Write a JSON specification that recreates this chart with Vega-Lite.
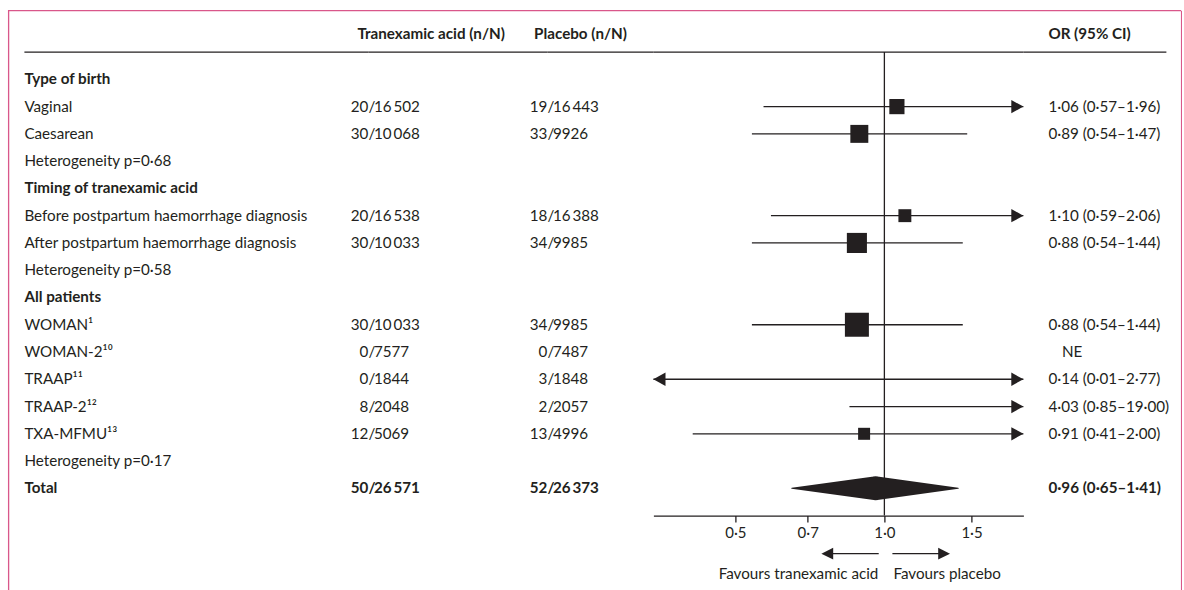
{
  "$schema": "https://vega.github.io/schema/vega-lite/v6.json",
  "background": "white",
  "padding": {"left": 7.4, "top": 9.4, "right": 0, "bottom": 0},
  "config": {
    "view": {"stroke": null},
    "font": "Lato",
    "text": {"font": "Lato", "fontSize": 15.2, "color": "#231f20", "baseline": "middle", "align": "left"},
    "rule": {"color": "#231f20", "strokeWidth": 1.3},
    "point": {"filled": true, "color": "#231f20", "opacity": 1, "strokeWidth": 0},
    "trail": {"color": "#231f20", "opacity": 1}
  },
  "datasets": {
    "rows": [
      {"label": "Type of birth", "type": "section"},
      {"label": "Vaginal", "type": "subgroup", "tx_events": 20, "tx_total": "16\u2009502", "pl_events": 19, "pl_total": "16\u2009443", "or_ci": "1·06 (0·57–1·96)", "or": 1.06, "lo": 0.57, "hi": 1.96, "weight": 40},
      {"label": "Caesarean", "type": "subgroup", "tx_events": 30, "tx_total": "10\u2009068", "pl_events": 33, "pl_total": "9926", "or_ci": "0·89 (0·54–1·47)", "or": 0.89, "lo": 0.54, "hi": 1.47, "weight": 56},
      {"label": "Heterogeneity p=0·68", "type": "heterogeneity"},
      {"label": "Timing of tranexamic acid", "type": "section"},
      {"label": "Before postpartum haemorrhage diagnosis", "type": "subgroup", "tx_events": 20, "tx_total": "16\u2009538", "pl_events": 18, "pl_total": "16\u2009388", "or_ci": "1·10 (0·59–2·06)", "or": 1.10, "lo": 0.59, "hi": 2.06, "weight": 29},
      {"label": "After postpartum haemorrhage diagnosis", "type": "subgroup", "tx_events": 30, "tx_total": "10\u2009033", "pl_events": 34, "pl_total": "9985", "or_ci": "0·88 (0·54–1·44)", "or": 0.88, "lo": 0.54, "hi": 1.44, "weight": 70},
      {"label": "Heterogeneity p=0·58", "type": "heterogeneity"},
      {"label": "All patients", "type": "section"},
      {"label": "WOMAN\u00b9", "type": "study", "tx_events": 30, "tx_total": "10\u2009033", "pl_events": 34, "pl_total": "9985", "or_ci": "0·88 (0·54–1·44)", "or": 0.88, "lo": 0.54, "hi": 1.44, "weight": 100},
      {"label": "WOMAN-2\u00b9\u2070", "type": "study", "tx_events": 0, "tx_total": "7577", "pl_events": 0, "pl_total": "7487", "or_ci": "NE"},
      {"label": "TRAAP\u00b9\u00b9", "type": "study", "tx_events": 0, "tx_total": "1844", "pl_events": 3, "pl_total": "1848", "or_ci": "0·14 (0·01–2·77)", "or": 0.14, "lo": 0.01, "hi": 2.77, "weight": 4},
      {"label": "TRAAP-2\u00b9\u00b2", "type": "study", "tx_events": 8, "tx_total": "2048", "pl_events": 2, "pl_total": "2057", "or_ci": "4·03 (0·85–19·00)", "or": 4.03, "lo": 0.85, "hi": 19.0, "weight": 10},
      {"label": "TXA-MFMU\u00b9\u00b3", "type": "study", "tx_events": 12, "tx_total": "5069", "pl_events": 13, "pl_total": "4996", "or_ci": "0·91 (0·41–2·00)", "or": 0.91, "lo": 0.41, "hi": 2.0, "weight": 25},
      {"label": "Heterogeneity p=0·17", "type": "heterogeneity"},
      {"label": "Total", "type": "total", "tx_events": 50, "tx_total": "26\u2009571", "pl_events": 52, "pl_total": "26\u2009373", "or_ci": "0·96 (0·65–1·41)", "or": 0.96, "lo": 0.65, "hi": 1.41}
    ]
  },
  "spacing": 0,
  "bounds": "flush",
  "vconcat": [
    {
      "width": 1172, "height": 0.01,
      "view": {"stroke": "#d9578a", "strokeWidth": 1.3},
      "data": {"values": []},
      "mark": {"type": "text"}
    },
    {
      "spacing": 0,
      "bounds": "flush",
      "hconcat": [
        {
          "width": 0.01, "height": 590,
          "view": {"stroke": "#d9578a", "strokeWidth": 1.3},
          "data": {"values": []},
          "mark": {"type": "text"}
        },
        {
          "width": 15, "height": 504.21,
          "data": {"values": []},
          "mark": {"type": "text"}
        },
        {
          "width": 344, "height": 504.21,
          "data": {"name": "rows"},
          "layer": [
            {
              "data": {"values": [{}]},
              "mark": {"type": "rule"},
              "encoding": {"y": {"datum": "spacer", "type": "nominal", "scale": {"type": "point", "padding": 0, "domain": ["header", "spacer", "Type of birth", "Vaginal", "Caesarean", "Heterogeneity p=0·68", "Timing of tranexamic acid", "Before postpartum haemorrhage diagnosis", "After postpartum haemorrhage diagnosis", "Heterogeneity p=0·58", "All patients", "WOMAN\u00b9", "WOMAN-2\u00b9\u2070", "TRAAP\u00b9\u00b9", "TRAAP-2\u00b9\u00b2", "TXA-MFMU\u00b9\u00b3", "Heterogeneity p=0·17", "Total", "axis"], "range": [13.41, 504.21]}, "axis": null}}
            },
            {
              "transform": [{"filter": "datum.type !== 'section' && datum.type !== 'total'"}],
              "mark": {"type": "text"},
              "encoding": {
                "x": {"datum": 0, "type": "quantitative", "scale": {"domain": [0, 1]}, "axis": null},
                "y": {"field": "label", "type": "nominal", "axis": null},
                "text": {"field": "label"}
              }
            },
            {
              "transform": [{"filter": "datum.type === 'section' || datum.type === 'total'"}],
              "mark": {"type": "text", "fontWeight": "bold"},
              "encoding": {
                "x": {"datum": 0, "type": "quantitative", "axis": null},
                "y": {"field": "label", "type": "nominal", "axis": null},
                "text": {"field": "label"}
              }
            }
          ]
        },
        {
          "width": 179, "height": 504.21,
          "data": {"name": "rows"},
          "layer": [
            {
              "data": {"values": [{}]},
              "mark": {"type": "rule"},
              "encoding": {"y": {"datum": "spacer", "type": "nominal", "scale": {"type": "point", "padding": 0, "domain": ["header", "spacer", "Type of birth", "Vaginal", "Caesarean", "Heterogeneity p=0·68", "Timing of tranexamic acid", "Before postpartum haemorrhage diagnosis", "After postpartum haemorrhage diagnosis", "Heterogeneity p=0·58", "All patients", "WOMAN\u00b9", "WOMAN-2\u00b9\u2070", "TRAAP\u00b9\u00b9", "TRAAP-2\u00b9\u00b2", "TXA-MFMU\u00b9\u00b3", "Heterogeneity p=0·17", "Total", "axis"], "range": [13.41, 504.21]}, "axis": null}}
            },
            {
              "data": {"values": [{}]},
              "mark": {"type": "text", "text": "Tranexamic acid  (n/N)", "fontWeight": "bold", "dx": -11, "dy": 9},
              "encoding": {
                "x": {"datum": 0, "type": "quantitative", "scale": {"domain": [0, 1]}, "axis": null},
                "y": {"datum": "header", "type": "nominal", "axis": null}
              }
            },
            {
              "transform": [{"filter": "isValid(datum.tx_events) && datum.type !== 'total'"}],
              "mark": {"type": "text", "align": "right"},
              "encoding": {
                "x": {"datum": 0, "type": "quantitative", "axis": null},
                "y": {"field": "label", "type": "nominal", "axis": null},
                "text": {"field": "tx_events", "type": "quantitative"}
              }
            },
            {
              "transform": [{"filter": "isValid(datum.tx_events) && datum.type !== 'total'"}],
              "mark": {"type": "text", "text": "/"},
              "encoding": {
                "x": {"datum": 0, "type": "quantitative", "axis": null},
                "y": {"field": "label", "type": "nominal", "axis": null}
              }
            },
            {
              "transform": [{"filter": "isValid(datum.tx_events) && datum.type !== 'total'"}],
              "mark": {"type": "text", "dx": 5.5},
              "encoding": {
                "x": {"datum": 0, "type": "quantitative", "axis": null},
                "y": {"field": "label", "type": "nominal", "axis": null},
                "text": {"field": "tx_total"}
              }
            },
            {
              "transform": [{"filter": "datum.type === 'total'"}],
              "mark": {"type": "text", "align": "right", "fontWeight": "bold"},
              "encoding": {
                "x": {"datum": 0, "type": "quantitative", "axis": null},
                "y": {"field": "label", "type": "nominal", "axis": null},
                "text": {"field": "tx_events", "type": "quantitative"}
              }
            },
            {
              "transform": [{"filter": "datum.type === 'total'"}],
              "mark": {"type": "text", "text": "/", "fontWeight": "bold"},
              "encoding": {
                "x": {"datum": 0, "type": "quantitative", "axis": null},
                "y": {"field": "label", "type": "nominal", "axis": null}
              }
            },
            {
              "transform": [{"filter": "datum.type === 'total'"}],
              "mark": {"type": "text", "dx": 5.5, "fontWeight": "bold"},
              "encoding": {
                "x": {"datum": 0, "type": "quantitative", "axis": null},
                "y": {"field": "label", "type": "nominal", "axis": null},
                "text": {"field": "tx_total"}
              }
            }
          ]
        },
        {
          "width": 106, "height": 504.21,
          "data": {"name": "rows"},
          "layer": [
            {
              "data": {"values": [{}]},
              "mark": {"type": "rule"},
              "encoding": {"y": {"datum": "spacer", "type": "nominal", "scale": {"type": "point", "padding": 0, "domain": ["header", "spacer", "Type of birth", "Vaginal", "Caesarean", "Heterogeneity p=0·68", "Timing of tranexamic acid", "Before postpartum haemorrhage diagnosis", "After postpartum haemorrhage diagnosis", "Heterogeneity p=0·58", "All patients", "WOMAN\u00b9", "WOMAN-2\u00b9\u2070", "TRAAP\u00b9\u00b9", "TRAAP-2\u00b9\u00b2", "TXA-MFMU\u00b9\u00b3", "Heterogeneity p=0·17", "Total", "axis"], "range": [13.41, 504.21]}, "axis": null}}
            },
            {
              "data": {"values": [{}]},
              "mark": {"type": "text", "text": "Placebo (n/N)", "fontWeight": "bold", "dx": -13.3, "dy": 9},
              "encoding": {
                "x": {"datum": 0, "type": "quantitative", "scale": {"domain": [0, 1]}, "axis": null},
                "y": {"datum": "header", "type": "nominal", "axis": null}
              }
            },
            {
              "transform": [{"filter": "isValid(datum.pl_events) && datum.type !== 'total'"}],
              "mark": {"type": "text", "align": "right"},
              "encoding": {
                "x": {"datum": 0, "type": "quantitative", "axis": null},
                "y": {"field": "label", "type": "nominal", "axis": null},
                "text": {"field": "pl_events", "type": "quantitative"}
              }
            },
            {
              "transform": [{"filter": "isValid(datum.pl_events) && datum.type !== 'total'"}],
              "mark": {"type": "text", "text": "/"},
              "encoding": {
                "x": {"datum": 0, "type": "quantitative", "axis": null},
                "y": {"field": "label", "type": "nominal", "axis": null}
              }
            },
            {
              "transform": [{"filter": "isValid(datum.pl_events) && datum.type !== 'total'"}],
              "mark": {"type": "text", "dx": 5.5},
              "encoding": {
                "x": {"datum": 0, "type": "quantitative", "axis": null},
                "y": {"field": "label", "type": "nominal", "axis": null},
                "text": {"field": "pl_total"}
              }
            },
            {
              "transform": [{"filter": "datum.type === 'total'"}],
              "mark": {"type": "text", "align": "right", "fontWeight": "bold"},
              "encoding": {
                "x": {"datum": 0, "type": "quantitative", "axis": null},
                "y": {"field": "label", "type": "nominal", "axis": null},
                "text": {"field": "pl_events", "type": "quantitative"}
              }
            },
            {
              "transform": [{"filter": "datum.type === 'total'"}],
              "mark": {"type": "text", "text": "/", "fontWeight": "bold"},
              "encoding": {
                "x": {"datum": 0, "type": "quantitative", "axis": null},
                "y": {"field": "label", "type": "nominal", "axis": null}
              }
            },
            {
              "transform": [{"filter": "datum.type === 'total'"}],
              "mark": {"type": "text", "dx": 5.5, "fontWeight": "bold"},
              "encoding": {
                "x": {"datum": 0, "type": "quantitative", "axis": null},
                "y": {"field": "label", "type": "nominal", "axis": null},
                "text": {"field": "pl_total"}
              }
            }
          ]
        },
        {
          "width": 370, "height": 504.21,
          "data": {"name": "rows"},
          "resolve": {"scale": {"y": "independent"}},
          "layer": [
            {
              "layer": [
                {
                  "data": {"values": [{}]},
                  "mark": {"type": "rule"},
                  "encoding": {"y": {"datum": "spacer", "type": "nominal", "scale": {"type": "point", "padding": 0, "domain": ["header", "spacer", "Type of birth", "Vaginal", "Caesarean", "Heterogeneity p=0·68", "Timing of tranexamic acid", "Before postpartum haemorrhage diagnosis", "After postpartum haemorrhage diagnosis", "Heterogeneity p=0·58", "All patients", "WOMAN\u00b9", "WOMAN-2\u00b9\u2070", "TRAAP\u00b9\u00b9", "TRAAP-2\u00b9\u00b2", "TXA-MFMU\u00b9\u00b3", "Heterogeneity p=0·17", "Total", "axis"], "range": [13.41, 504.21]}, "axis": null}}
                },
                {
                  "data": {"values": [{}]},
                  "mark": {"type": "rule"},
                  "encoding": {
                    "x": {"datum": 1, "type": "quantitative", "title": null,
                      "scale": {"type": "log", "domain": [0.3415, 1.909], "clamp": true, "nice": false},
                      "axis": {"orient": "bottom", "values": [0.5, 0.7, 1, 1.5], "labelExpr": "replace(format(datum.value, '.1f'), '.', '·')", "title": null, "grid": false, "domainColor": "#231f20", "domainWidth": 1.3, "tickColor": "#231f20", "tickWidth": 1.3, "tickSize": 6.5, "labelFont": "Lato", "labelFontSize": 15, "labelColor": "#231f20", "labelPadding": 3, "labelFlush": false, "labelOverlap": false}},
                    "y": {"datum": "spacer", "type": "nominal", "axis": null},
                    "y2": {"datum": "axis"}
                  }
                },
                {
                  "transform": [{"filter": "isValid(datum.lo) && datum.type !== 'total'"}],
                  "mark": {"type": "rule"},
                  "encoding": {
                    "x": {"field": "lo", "type": "quantitative", "title": null},
                    "x2": {"field": "hi"},
                    "y": {"field": "label", "type": "nominal", "axis": null}
                  }
                },
                {
                  "transform": [{"filter": "datum.hi > 1.909"}],
                  "mark": {"type": "point", "shape": "M0,0L-1,-0.55L-1,0.55Z", "size": 586},
                  "encoding": {
                    "x": {"field": "hi", "type": "quantitative", "title": null},
                    "y": {"field": "label", "type": "nominal", "axis": null}
                  }
                },
                {
                  "transform": [{"filter": "datum.lo < 0.3415"}],
                  "mark": {"type": "point", "shape": "M0,0L1,-0.55L1,0.55Z", "size": 586},
                  "encoding": {
                    "x": {"field": "lo", "type": "quantitative", "title": null},
                    "y": {"field": "label", "type": "nominal", "axis": null}
                  }
                },
                {
                  "transform": [{"filter": "isValid(datum.weight) && datum.or >= 0.3415 && datum.or <= 1.909"}],
                  "mark": {"type": "point", "shape": "square"},
                  "encoding": {
                    "x": {"field": "or", "type": "quantitative", "title": null},
                    "y": {"field": "label", "type": "nominal", "axis": null},
                    "size": {"field": "weight", "type": "quantitative", "scale": {"domain": [0, 100], "range": [0, 576]}, "legend": null}
                  }
                },
                {
                  "transform": [{"filter": "datum.type === 'total'"}, {"fold": ["lo", "or", "hi"]}],
                  "mark": {"type": "trail"},
                  "encoding": {
                    "x": {"field": "value", "type": "quantitative", "title": null},
                    "y": {"field": "label", "type": "nominal", "axis": null},
                    "order": {"field": "value", "type": "quantitative"},
                    "size": {"condition": {"test": "datum.key === 'or'", "value": 24}, "value": 0}
                  }
                }
              ]
            },
            {
              "data": {"values": [{}]},
              "layer": [
                {
                  "mark": {"type": "rule"},
                  "encoding": {
                    "x": {"datum": 0.974, "type": "quantitative", "title": null},
                    "x2": {"datum": 0.755},
                    "y": {"datum": "arrows", "type": "nominal", "scale": {"type": "point", "padding": 0, "domain": ["arrows", "favours"], "range": [542.24, 562.24]}, "axis": null}
                  }
                },
                {
                  "mark": {"type": "rule"},
                  "encoding": {
                    "x": {"datum": 1.038, "type": "quantitative", "title": null},
                    "x2": {"datum": 1.345},
                    "y": {"datum": "arrows", "type": "nominal", "axis": null}
                  }
                },
                {
                  "mark": {"type": "point", "shape": "M0,0L1,-0.5L1,0.5Z", "size": 560},
                  "encoding": {
                    "x": {"datum": 0.746, "type": "quantitative", "title": null},
                    "y": {"datum": "arrows", "type": "nominal", "axis": null}
                  }
                },
                {
                  "mark": {"type": "point", "shape": "M0,0L-1,-0.5L-1,0.5Z", "size": 560},
                  "encoding": {
                    "x": {"datum": 1.357, "type": "quantitative", "title": null},
                    "y": {"datum": "arrows", "type": "nominal", "axis": null}
                  }
                },
                {
                  "mark": {"type": "text", "text": "Favours tranexamic acid", "align": "right", "dx": -6},
                  "encoding": {
                    "x": {"datum": 1, "type": "quantitative", "title": null},
                    "y": {"datum": "favours", "type": "nominal", "axis": null}
                  }
                },
                {
                  "mark": {"type": "text", "text": "Favours placebo", "align": "left", "dx": 9},
                  "encoding": {
                    "x": {"datum": 1, "type": "quantitative", "title": null},
                    "y": {"datum": "favours", "type": "nominal", "axis": null}
                  }
                }
              ]
            }
          ]
        },
        {
          "width": 143, "height": 504.21,
          "data": {"name": "rows"},
          "layer": [
            {
              "data": {"values": [{}]},
              "mark": {"type": "rule"},
              "encoding": {"y": {"datum": "spacer", "type": "nominal", "scale": {"type": "point", "padding": 0, "domain": ["header", "spacer", "Type of birth", "Vaginal", "Caesarean", "Heterogeneity p=0·68", "Timing of tranexamic acid", "Before postpartum haemorrhage diagnosis", "After postpartum haemorrhage diagnosis", "Heterogeneity p=0·58", "All patients", "WOMAN\u00b9", "WOMAN-2\u00b9\u2070", "TRAAP\u00b9\u00b9", "TRAAP-2\u00b9\u00b2", "TXA-MFMU\u00b9\u00b3", "Heterogeneity p=0·17", "Total", "axis"], "range": [13.41, 504.21]}, "axis": null}}
            },
            {
              "data": {"values": [{}]},
              "mark": {"type": "text", "text": "OR (95% CI)", "fontWeight": "bold", "dx": 25, "dy": 9},
              "encoding": {
                "x": {"datum": 0, "type": "quantitative", "scale": {"domain": [0, 1]}, "axis": null},
                "y": {"datum": "header", "type": "nominal", "axis": null}
              }
            },
            {
              "transform": [{"filter": "isValid(datum.or_ci) && datum.or_ci !== 'NE' && datum.type !== 'total'"}],
              "mark": {"type": "text", "dx": 25},
              "encoding": {
                "x": {"datum": 0, "type": "quantitative", "axis": null},
                "y": {"field": "label", "type": "nominal", "axis": null},
                "text": {"field": "or_ci"}
              }
            },
            {
              "transform": [{"filter": "datum.or_ci === 'NE'"}],
              "mark": {"type": "text", "dx": 38.5},
              "encoding": {
                "x": {"datum": 0, "type": "quantitative", "axis": null},
                "y": {"field": "label", "type": "nominal", "axis": null},
                "text": {"field": "or_ci"}
              }
            },
            {
              "transform": [{"filter": "datum.type === 'total'"}],
              "mark": {"type": "text", "dx": 25, "fontWeight": "bold"},
              "encoding": {
                "x": {"datum": 0, "type": "quantitative", "axis": null},
                "y": {"field": "label", "type": "nominal", "axis": null},
                "text": {"field": "or_ci"}
              }
            }
          ]
        },
        {
          "width": 15, "height": 504.21,
          "data": {"values": []},
          "mark": {"type": "text"}
        },
        {
          "width": 0.01, "height": 590,
          "view": {"stroke": "#d9578a", "strokeWidth": 1.3},
          "data": {"values": []},
          "mark": {"type": "text"}
        }
      ]
    }
  ]
}
